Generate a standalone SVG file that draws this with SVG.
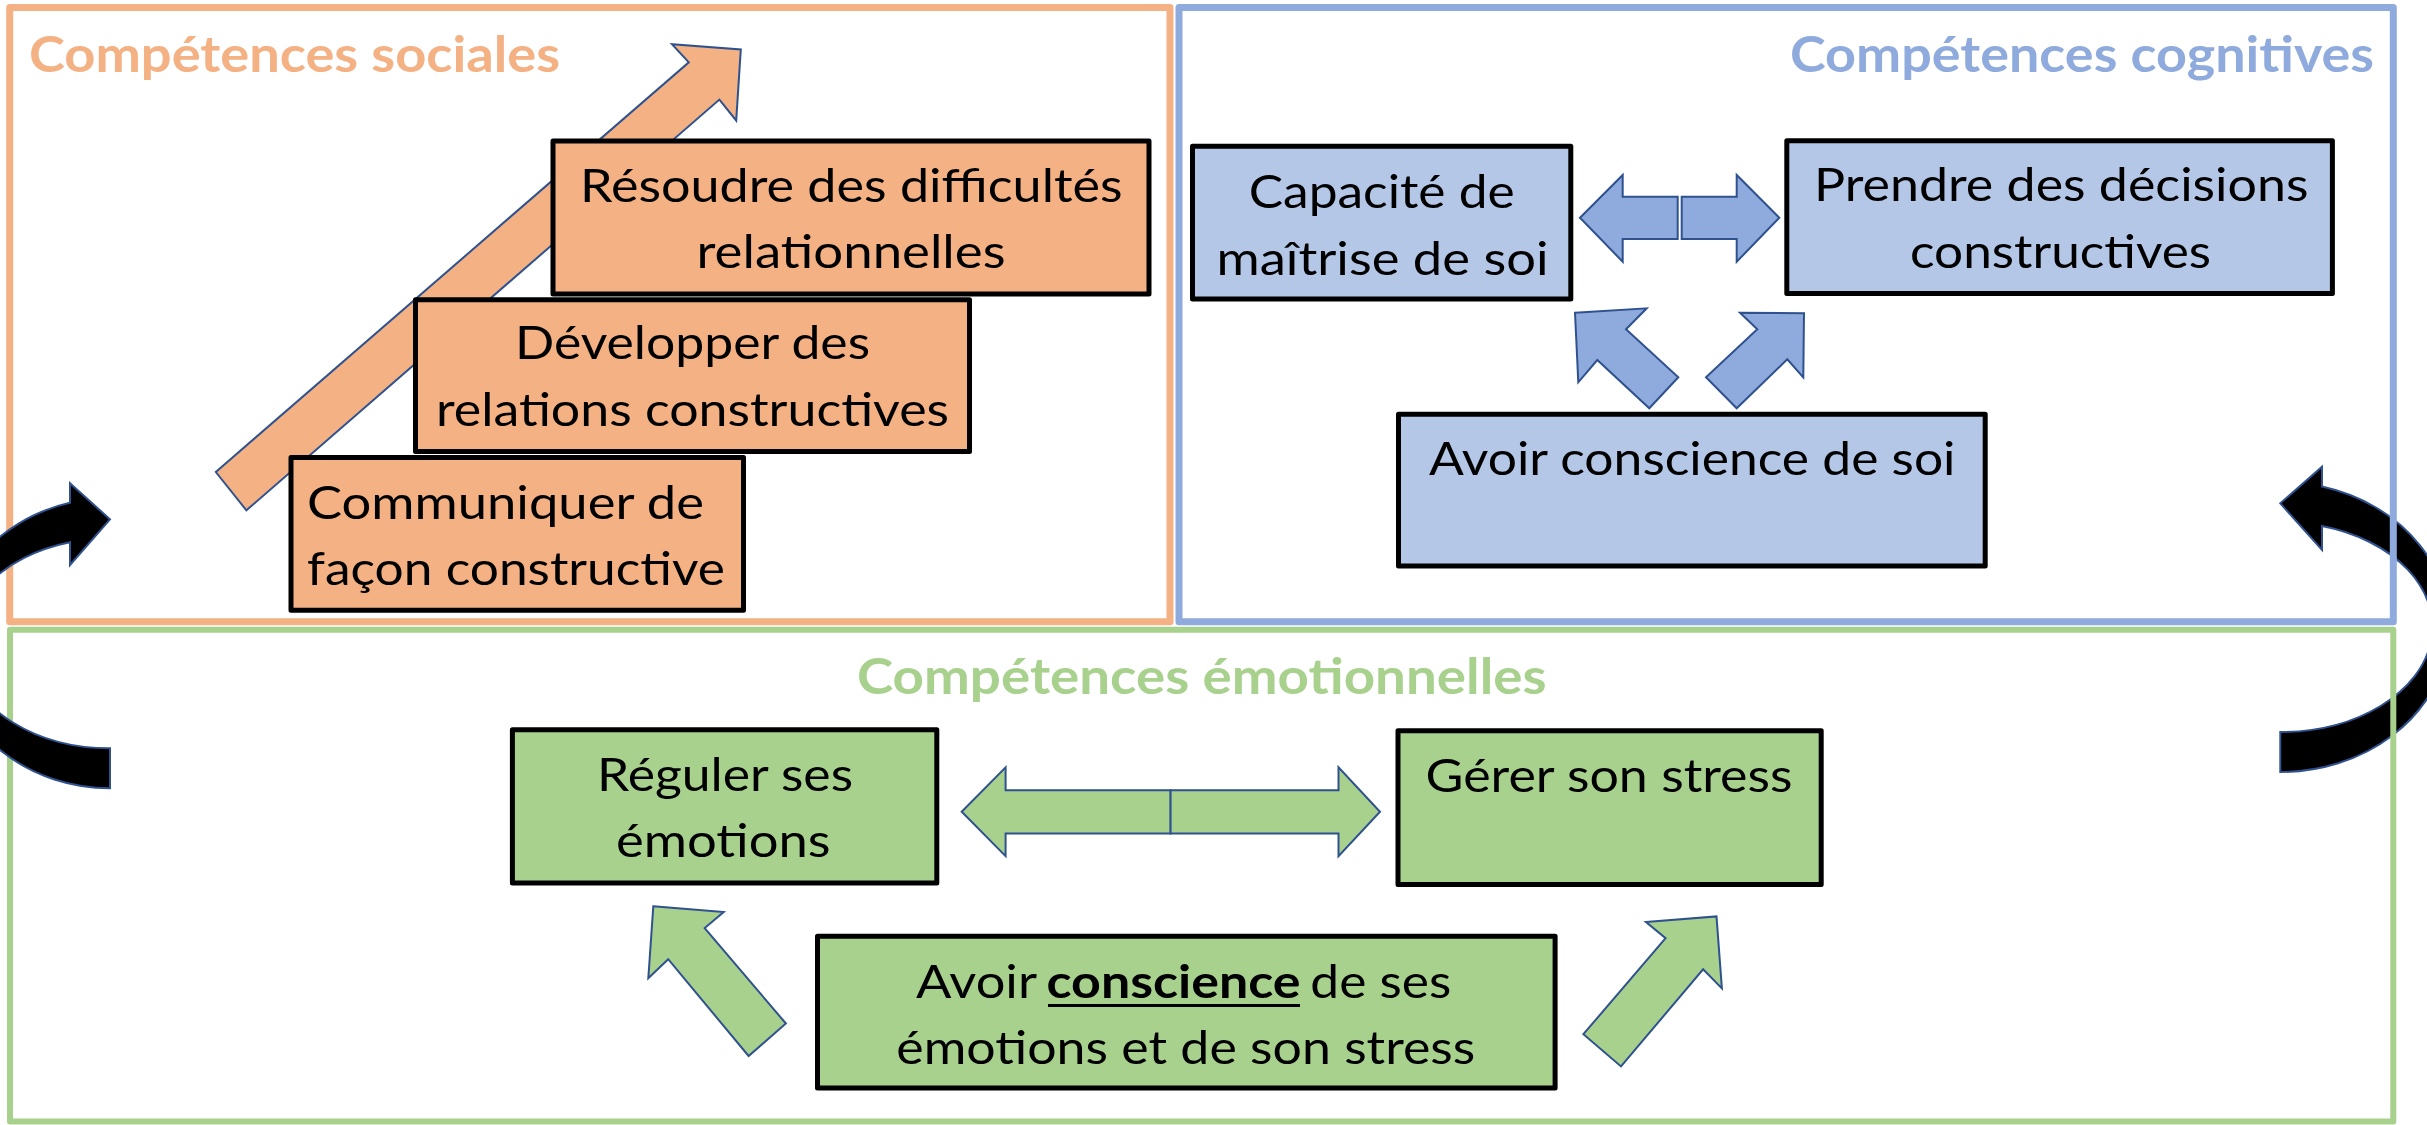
<svg xmlns="http://www.w3.org/2000/svg" width="2427" height="1125" viewBox="0 0 2427 1125">
<style>
.panel{fill:none;stroke-linejoin:round}
.box{stroke:#000;stroke-width:5;stroke-linejoin:round}
.t{font-family:Lato,'Liberation Sans',sans-serif;font-size:46px;fill:#000}
.b{font-weight:700}
.title{font-family:Lato,'Liberation Sans',sans-serif;font-weight:700;font-size:49px}
.arr{stroke:#2F528F;stroke-width:2;stroke-linejoin:miter}
.curve{fill:#000;stroke:#2F528F;stroke-width:2}
</style>
<rect width="2427" height="1125" fill="#fff"/>
<g id="connectors-back">
<path class="curve" d="M2280.3,772 A169,145 0 0 0 2322,486.5 L2322,466.7 L2280.3,503.3 L2322,550 L2322,526 A152,105 0 0 1 2280.3,732 Z"/>
</g>
<g id="panel-sociales">
<rect class="panel" x="9.7" y="7.5" width="1160.3" height="614.2" stroke="#F4B183" stroke-width="7"/>
<text class="title" x="29" y="71.5" fill="#F4B183" textLength="531" lengthAdjust="spacingAndGlyphs">Compétences sociales</text>
</g>
<g id="panel-cognitives">
<rect class="panel" x="1179" y="7.5" width="1214.3" height="614.2" stroke="#8FAADC" stroke-width="7"/>
<text class="title" x="1790" y="72" fill="#8FAADC" textLength="584" lengthAdjust="spacingAndGlyphs">Compétences cognitives</text>
</g>
<g id="panel-emotionnelles">
<rect class="panel" x="10" y="629.7" width="2383.3" height="491.8" stroke="#A9D18E" stroke-width="6"/>
<text class="title" x="857" y="693.5" fill="#A9D18E" textLength="689.5" lengthAdjust="spacingAndGlyphs">Compétences émotionnelles</text>
</g>
<g id="connectors">
<polygon class="arr" fill="#F4B183" points="215.8,472 688.8,62.3 672,44.2 740.8,49.4 736.2,120.5 719.4,99.6 246.4,510.3"/>
<polygon class="arr" fill="#8FAADC" points="1580,217.7 1622.7,175 1622.7,196.7 1677.7,196.7 1677.7,239 1622.7,239 1622.7,261.7"/>
<polygon class="arr" fill="#8FAADC" points="1681.7,196.7 1736.7,196.7 1736.7,175 1779.3,217.7 1736.7,261.7 1736.7,239 1681.7,239"/>
<polygon class="arr" fill="#8FAADC" points="1575,312.7 1646.7,308.3 1626,329.3 1678.3,377.3 1649.3,408.3 1597.3,360 1578.3,382.3"/>
<polygon class="arr" fill="#8FAADC" points="1740,312.7 1804,313.3 1803.3,377.3 1787.3,359.3 1736.7,408.3 1706,377.3 1757.3,329.3"/>
<polygon class="arr" fill="#A9D18E" points="961.7,811.8 1005.6,767.4 1005.6,790.2 1170.6,790.2 1170.6,833.4 1005.6,833.4 1005.6,856.1"/>
<polygon class="arr" fill="#A9D18E" points="1170.6,790.2 1338.5,790.2 1338.5,767.4 1380,811.8 1338.5,856.1 1338.5,833.4 1170.6,833.4"/>
<polygon class="arr" fill="#A9D18E" points="653.3,906.3 723.7,912 704.7,928.1 785.9,1023.5 748.6,1056 668.2,959.2 648.3,978.3"/>
<polygon class="arr" fill="#A9D18E" points="1646,922.1 1716.5,916.4 1721.9,988.4 1703.1,969.3 1621,1066.4 1583.4,1034.2 1665.6,938.2"/>
<path class="curve" d="M110,788.3 A162.4,145 0 0 1 70,502.8 L70,483.3 L110,519.3 L70,565 L70,542.2 A147.6,105 0 0 0 110,748.3 Z"/>
</g>
<g id="node-resoudre">
<rect class="box" x="553" y="141" width="596" height="153" fill="#F4B183"/>
<text class="t" x="580" y="201.5" textLength="542.5" lengthAdjust="spacingAndGlyphs">Résoudre des difficultés</text>
<text class="t" x="696.5" y="267.5" textLength="309" lengthAdjust="spacingAndGlyphs">relationnelles</text>
</g>
<g id="node-developper">
<rect class="box" x="415.5" y="299.8" width="554" height="151.7" fill="#F4B183"/>
<text class="t" x="515" y="359" textLength="355" lengthAdjust="spacingAndGlyphs">Développer des</text>
<text class="t" x="436" y="426" textLength="513" lengthAdjust="spacingAndGlyphs">relations constructives</text>
</g>
<g id="node-communiquer">
<rect class="box" x="291" y="457.5" width="452.5" height="152.7" fill="#F4B183"/>
<text class="t" x="307" y="518.5" textLength="397" lengthAdjust="spacingAndGlyphs">Communiquer de</text>
<text class="t" x="307" y="585" textLength="418" lengthAdjust="spacingAndGlyphs">façon constructive</text>
</g>
<g id="node-capacite">
<rect class="box" x="1192.5" y="146.3" width="378.3" height="152.6" fill="#B4C7E7"/>
<text class="t" x="1248.7" y="207.5" textLength="266" lengthAdjust="spacingAndGlyphs">Capacité de</text>
<text class="t" x="1216.5" y="274.5" textLength="332" lengthAdjust="spacingAndGlyphs">maîtrise de soi</text>
</g>
<g id="node-prendre">
<rect class="box" x="1786.8" y="140.8" width="545.6" height="152.8" fill="#B4C7E7"/>
<text class="t" x="1814" y="201" textLength="494.5" lengthAdjust="spacingAndGlyphs">Prendre des décisions</text>
<text class="t" x="1910" y="267.5" textLength="301" lengthAdjust="spacingAndGlyphs">constructives</text>
</g>
<g id="node-conscience-soi">
<rect class="box" x="1398.5" y="414.3" width="586.7" height="151.7" fill="#B4C7E7"/>
<text class="t" x="1429" y="474.5" textLength="526.5" lengthAdjust="spacingAndGlyphs">Avoir conscience de soi</text>
</g>
<g id="node-reguler">
<rect class="box" x="512.4" y="729.7" width="424.4" height="153.4" fill="#A9D18E"/>
<text class="t" x="597" y="790.5" textLength="256" lengthAdjust="spacingAndGlyphs">Réguler ses</text>
<text class="t" x="616" y="857" textLength="214.5" lengthAdjust="spacingAndGlyphs">émotions</text>
</g>
<g id="node-gerer">
<rect class="box" x="1398" y="730.7" width="423.2" height="153.7" fill="#A9D18E"/>
<text class="t" x="1425.5" y="792" textLength="367" lengthAdjust="spacingAndGlyphs">Gérer son stress</text>
</g>
<g id="node-conscience-emotions">
<rect class="box" x="817.5" y="936.3" width="737.6" height="151.7" fill="#A9D18E"/>
<text class="t" x="916" y="997.5" textLength="121" lengthAdjust="spacingAndGlyphs">Avoir</text>
<text class="t b" x="1046.5" y="997.5" textLength="254" lengthAdjust="spacingAndGlyphs">conscience</text>
<line x1="1048" y1="1005.5" x2="1300" y2="1005.5" stroke="#000" stroke-width="3"/>
<text class="t" x="1310.3" y="997.5" textLength="141" lengthAdjust="spacingAndGlyphs">de ses</text>
<text class="t" x="896.3" y="1064" textLength="579" lengthAdjust="spacingAndGlyphs">émotions et de son stress</text>
</g>
</svg>
